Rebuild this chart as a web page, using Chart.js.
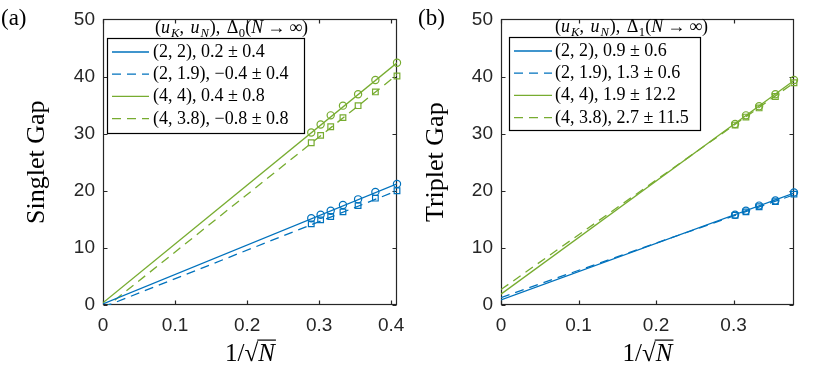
<!DOCTYPE html>
<html>
<head>
<meta charset="utf-8">
<script src="https://cdn.jsdelivr.net/npm/chart.js@4/dist/chart.umd.min.js"></script>
<style>
  body { margin: 0; background: #fff; }
  canvas { position: absolute; top: 0; }
  #ca { left: 0; }
  #cb { left: 415px; }
</style>
</head>
<body>
<canvas id="ca" width="415" height="367"></canvas>
<canvas id="cb" width="415" height="367"></canvas>
<script>
// 1/sqrt(N) positions of the samples
const xA = [0.408, 0.378, 0.354, 0.333, 0.316, 0.302, 0.289];
const xB = [0.378, 0.354, 0.333, 0.316, 0.302];

// (a) singlet gap
const blueCircA  = [21.2, 19.8, 18.5, 17.5, 16.5, 15.8, 15.2];
const blueSqA    = [20.0, 18.7, 17.4, 16.3, 15.5, 14.9, 14.2];
const greenCircA = [42.4, 39.4, 36.9, 34.9, 33.2, 31.6, 30.2];
const greenSqA   = [40.1, 37.3, 34.9, 32.8, 31.2, 29.7, 28.4];

// (b) triplet gap
const blueCircB  = [19.7, 18.3, 17.4, 16.5, 15.8];
const blueSqB    = [19.4, 18.1, 17.2, 16.3, 15.7];
const greenCircB = [39.4, 36.9, 34.8, 33.2, 31.7];
const greenSqB   = [38.9, 36.5, 34.5, 32.9, 31.5];

// linear fits: value at x = 0 and at the right end of the axis
const fitEndsA = [0, 0.408];
const fitBlueA   = [0.2, 21.2];
const fitBlueDA  = [-0.4, 20.0];
const fitGreenA  = [0.4, 42.4];
const fitGreenDA = [-0.8, 40.3];

const fitEndsB = [0, 0.378];
const fitBlueB   = [0.9, 19.6];
const fitBlueDB  = [1.3, 19.3];
const fitGreenB  = [1.9, 39.3];
const fitGreenDB = [2.7, 38.9];

const legendA = ['(2, 2), 0.2 ± 0.4', '(2, 1.9), −0.4 ± 0.4', '(4, 4), 0.4 ± 0.8', '(4, 3.8), −0.8 ± 0.8'];
const legendB = ['(2, 2), 0.9 ± 0.6', '(2, 1.9), 1.3 ± 0.6', '(4, 4), 1.9 ± 12.2', '(4, 3.8), 2.7 ± 11.5'];

const yTicks = [0, 10, 20, 30, 40, 50];
const xTicksA = [0, 0.1, 0.2, 0.3, 0.4];
const xTicksB = [0, 0.1, 0.2, 0.3];

const BLUE = 'rgb(0,114,189)';
const GREEN = 'rgb(119,172,48)';
const AXIS = '#262626';
const SERIF = '"Liberation Serif", "DejaVu Serif", serif';
const SANS = '"Liberation Sans", Arial, sans-serif';

function pts(xs, ys) {
  return xs.map((x, i) => ({ x: x, y: ys[i] }));
}

// draws runs of text: r upright, i italic, s italic subscript, d upright subscript
// a number in a run is extra horizontal space
function mathText(ctx, runs, x, y, size) {
  let cx = x;
  for (const [t, k] of runs) {
    if (typeof t === 'number') { cx += t; continue; }
    const sub = k === 's' || k === 'd';
    const it = k === 'i' || k === 's';
    const fs = sub ? size * 0.7 : size;
    ctx.font = (it ? 'italic ' : '') + fs + 'px ' + SERIF;
    ctx.fillText(t, cx, sub ? y + size * 0.22 : y);
    cx += ctx.measureText(t).width;
  }
  return cx - x;
}

const boxPlugin = {
  id: 'mlBox',
  beforeDatasetsDraw(chart) {
    const { ctx, chartArea: a, scales } = chart;
    const l = Math.round(a.left) + 0.5, r = Math.round(a.right) - 0.5;
    const t = Math.round(a.top) + 0.5, b = Math.round(a.bottom) - 0.5;
    ctx.save();
    ctx.strokeStyle = AXIS;
    ctx.lineWidth = 1.2;
    ctx.strokeRect(l, t, r - l, b - t);
    ctx.beginPath();
    scales.x.ticks.forEach(tk => {
      const px = Math.round(scales.x.getPixelForValue(tk.value)) + 0.5;
      ctx.moveTo(px, b); ctx.lineTo(px, b - 4);
      ctx.moveTo(px, t); ctx.lineTo(px, t + 4);
    });
    scales.y.ticks.forEach(tk => {
      const py = Math.round(scales.y.getPixelForValue(tk.value)) + 0.5;
      ctx.moveTo(l, py); ctx.lineTo(l + 4, py);
      ctx.moveTo(r, py); ctx.lineTo(r - 4, py);
    });
    ctx.stroke();
    ctx.restore();
  }
};

const legendPlugin = {
  id: 'mlLegend',
  afterDatasetsDraw(chart, args, o) {
    const ctx = chart.ctx;
    const fits = chart.data.datasets.filter(d => d.fit);
    ctx.save();
    // panel letter
    ctx.fillStyle = '#000';
    ctx.textBaseline = 'alphabetic';
    ctx.font = '23px ' + SERIF;
    ctx.fillText(o.panel, o.panelX, 25);
    // legend title
    mathText(ctx, o.title, o.titleX, o.titleY, 18);
    // box
    const [bl, bt, br, bb] = o.box;
    ctx.fillStyle = '#fff';
    ctx.fillRect(bl, bt, br - bl, bb - bt);
    ctx.strokeStyle = '#000';
    ctx.lineWidth = 1.2;
    ctx.strokeRect(bl + 0.5, bt + 0.5, br - bl, bb - bt);
    o.labels.forEach((lab, i) => {
      const y = bt + 14 + i * 22.2;
      const ds = fits[i];
      ctx.strokeStyle = ds.borderColor;
      ctx.lineWidth = 1.3;
      ctx.setLineDash(ds.borderDash || []);
      ctx.beginPath();
      ctx.moveTo(o.lineX[0], y);
      ctx.lineTo(o.lineX[1], y);
      ctx.stroke();
      ctx.setLineDash([]);
      ctx.fillStyle = '#000';
      ctx.font = '18px ' + SERIF;
      ctx.fillText(lab, o.textX, y + 5);
    });
    // x axis title 1/sqrt(N)
    const a = chart.chartArea;
    const size = 25;
    ctx.font = size + 'px ' + SERIF;
    const w1 = ctx.measureText('1/').width;
    const w2 = ctx.measureText('√').width;
    ctx.font = 'italic ' + size + 'px ' + SERIF;
    const w3 = ctx.measureText('N').width;
    const x = (a.left + a.right) / 2 - (w1 + w2 + w3) / 2;
    const base = 361;
    ctx.font = size + 'px ' + SERIF;
    ctx.fillText('1/', x, base);
    ctx.fillText('√', x + w1, base);
    ctx.font = 'italic ' + size + 'px ' + SERIF;
    ctx.fillText('N', x + w1 + w2, base);
    ctx.fillRect(x + w1 + w2 - 1, base - size * 0.86, w3 + 2, 1.2);
    ctx.restore();
  }
};

function fitSet(ends, vals, color, dashed) {
  return {
    type: 'line', fit: true, data: pts(ends, vals),
    borderColor: color, borderWidth: 1.3, borderDash: dashed ? [9, 6] : undefined,
    pointRadius: 0, fill: false, showLine: true
  };
}

function markSet(xs, ys, color, style) {
  return {
    type: 'scatter', data: pts(xs, ys), showLine: false, clip: false,
    pointStyle: style, pointRadius: style === 'rect' ? 4 : 3.6,
    borderColor: color, pointBorderColor: color, pointBackgroundColor: 'rgba(0,0,0,0)',
    pointBorderWidth: 1.2
  };
}

function makeChart(id, p) {
  return new Chart(document.getElementById(id), {
    type: 'scatter',
    data: { datasets: p.datasets },
    plugins: [boxPlugin, legendPlugin],
    options: {
      responsive: false,
      animation: false,
      events: [],
      layout: { padding: { left: 0, right: p.padRight, top: 12, bottom: 0 } },
      plugins: {
        legend: { display: false },
        tooltip: { enabled: false },
        mlLegend: p.legend
      },
      scales: {
        x: {
          type: 'linear', min: 0, max: p.xMax,
          grid: { display: false, drawTicks: false },
          border: { display: false },
          afterBuildTicks: s => { s.ticks = p.xTicks.map(v => ({ value: v })); },
          afterFit: s => { s.height = 62; },
          ticks: { padding: 9, color: AXIS, font: { family: SANS, size: 19 }, maxRotation: 0, callback: v => String(v) }
        },
        y: {
          type: 'linear', min: 0, max: 50,
          grid: { display: false, drawTicks: false },
          border: { display: false },
          afterBuildTicks: s => { s.ticks = yTicks.map(v => ({ value: v })); },
          afterFit: s => { s.width = p.yWidth; },
          ticks: { padding: 8, color: AXIS, font: { family: SANS, size: 19 }, callback: v => String(v) },
          title: {
            display: true, text: p.yTitle, color: '#000',
            font: { family: SERIF, size: 26 },
            padding: { top: p.yTitlePad, bottom: 0 }
          }
        }
      }
    }
  });
}

function legendTitle(sub) {
  return [['(', 'r'], ['u', 'i'], [1, ''], ['K', 's'], [', ', 'r'], [2, ''], ['u', 'i'], [1, ''], ['N', 's'], [1, ''],
          ['), ', 'r'], [2, ''], ['Δ', 'r'], [0.5, ''], [sub, 'd'], ['(', 'r'], ['N', 'i'], [4, ''], ['→', 'r'], [4, ''], ['∞)', 'r']];
}

makeChart('ca', {
  xMax: 0.408, xTicks: xTicksA, padRight: 18, yWidth: 103, yTitle: 'Singlet Gap', yTitlePad: 22,
  datasets: [
    fitSet(fitEndsA, fitBlueA, BLUE, false),
    fitSet(fitEndsA, fitBlueDA, BLUE, true),
    fitSet(fitEndsA, fitGreenA, GREEN, false),
    fitSet(fitEndsA, fitGreenDA, GREEN, true),
    markSet(xA, blueCircA, BLUE, 'circle'),
    markSet(xA, blueSqA, BLUE, 'rect'),
    markSet(xA, greenCircA, GREEN, 'circle'),
    markSet(xA, greenSqA, GREEN, 'rect')
  ],
  legend: {
    panel: '(a)', panelX: 1,
    title: legendTitle('0'),
    titleX: 155, titleY: 33,
    box: [107, 38, 304, 133], lineX: [112, 149], textX: 153,
    labels: legendA
  }
});

makeChart('cb', {
  xMax: 0.378, xTicks: xTicksB, padRight: 36, yWidth: 86, yTitle: 'Triplet Gap', yTitlePad: 6,
  datasets: [
    fitSet(fitEndsB, fitBlueB, BLUE, false),
    fitSet(fitEndsB, fitBlueDB, BLUE, true),
    fitSet(fitEndsB, fitGreenB, GREEN, false),
    fitSet(fitEndsB, fitGreenDB, GREEN, true),
    markSet(xB, blueCircB, BLUE, 'circle'),
    markSet(xB, blueSqB, BLUE, 'rect'),
    markSet(xB, greenCircB, GREEN, 'circle'),
    markSet(xB, greenSqB, GREEN, 'rect')
  ],
  legend: {
    panel: '(b)', panelX: 3,
    title: legendTitle('1'),
    titleX: 140, titleY: 32,
    box: [94, 37, 285, 130], lineX: [99, 137], textX: 140,
    labels: legendB
  }
});
</script>
</body>
</html>
